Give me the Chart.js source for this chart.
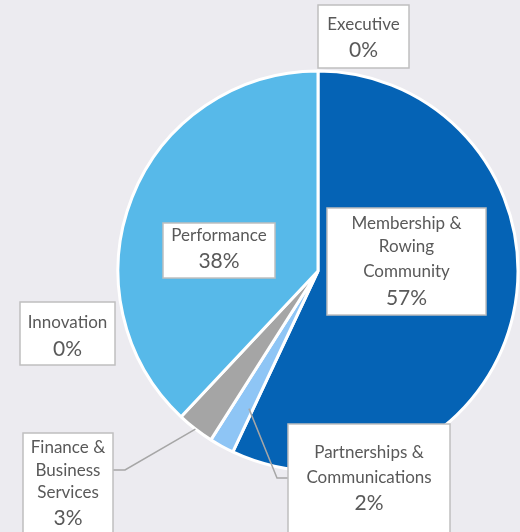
<!DOCTYPE html>
<html><head><meta charset="utf-8">
<script src="https://cdn.jsdelivr.net/npm/chart.js@4/dist/chart.umd.min.js"></script>
<style>
html,body{margin:0;padding:0;background:#ecebf0;}
#wrap{width:520px;height:532px;position:relative;}
</style>
</head><body>
<div id="wrap"><canvas id="c" width="520" height="532"></canvas></div>
<script>
// Budget share by area, clockwise from 12 o'clock
const categories = [
  ["Executive"],
  ["Membership &", "Rowing", "Community"],
  ["Partnerships &", "Communications"],
  ["Finance &", "Business", "Services"],
  ["Innovation"],
  ["Performance"]
];
const shares = [0, 57, 2, 3, 0, 38];
const sliceColors = ["#0563b5", "#0563b5", "#8ec5f5", "#a5a5a5", "#57b9e9", "#57b9e9"];

// Callout boxes: [x, y, w, h], centres of each text line,
// and optional leader line anchored to the slice (t = fraction along the arc, k = fraction of radius)
const callouts = [
  { box: [318, 5, 91, 63],    lines: [25, 50] },
  { box: [327, 208, 159, 107], lines: [224, 247, 272, 298] },
  { box: [288, 424, 162, 130], lines: [453, 478, 503],
    leader: { t: 0.2, k: 0.77, path: [[277, 478], [288, 478]] } },
  { box: [23, 433, 90, 120],  lines: [448, 471, 493, 518],
    leader: { t: 0.5, k: 1.0, path: [[125, 470], [113, 470]] } },
  { box: [20, 302, 95, 63],   lines: [323, 349] },
  { box: [163, 223, 112, 55], lines: [236, 261] }
];

const calloutPlugin = {
  id: 'callouts',
  afterDraw(chart) {
    const ctx = chart.ctx;
    const arcs = chart.getDatasetMeta(0).data;
    ctx.save();
    // leader lines
    ctx.strokeStyle = '#a6a6a6';
    ctx.lineWidth = 1.5;
    callouts.forEach((c, i) => {
      if (!c.leader) return;
      const a = arcs[i];
      const ang = a.startAngle + c.leader.t * (a.endAngle - a.startAngle);
      const r = c.leader.k * a.outerRadius;
      ctx.beginPath();
      ctx.moveTo(a.x + Math.cos(ang) * r, a.y + Math.sin(ang) * r);
      c.leader.path.forEach(p => ctx.lineTo(p[0], p[1]));
      ctx.stroke();
    });
    // boxes and text
    callouts.forEach((c, i) => {
      const [x, y, w, h] = c.box;
      ctx.fillStyle = '#ffffff';
      ctx.fillRect(x, y, w, h);
      ctx.strokeStyle = '#bfbfbf';
      ctx.lineWidth = 1.5;
      ctx.strokeRect(x, y, w, h);
      const text = categories[i].concat([shares[i] + '%']);
      ctx.fillStyle = '#595959';
      ctx.textAlign = 'center';
      ctx.textBaseline = 'middle';
      text.forEach((t, j) => {
        const isValue = j === text.length - 1;
        ctx.font = isValue ? '21px Lato' : '17px Lato';
        ctx.fillText(t, x + w / 2, c.lines[j]);
      });
    });
    ctx.restore();
  }
};

new Chart(document.getElementById('c'), {
  type: 'pie',
  data: {
    labels: categories.map(l => l.join(' ')),
    datasets: [{
      data: shares,
      backgroundColor: sliceColors,
      borderColor: '#ffffff',
      borderWidth: 3,
      hoverOffset: 0
    }]
  },
  options: {
    responsive: false,
    animation: false,
    radius: 200,
    layout: { padding: { left: 116, right: 0, top: 10, bottom: 0 } },
    plugins: { legend: { display: false }, tooltip: { enabled: false } }
  },
  plugins: [calloutPlugin]
});
</script>
</body></html>
